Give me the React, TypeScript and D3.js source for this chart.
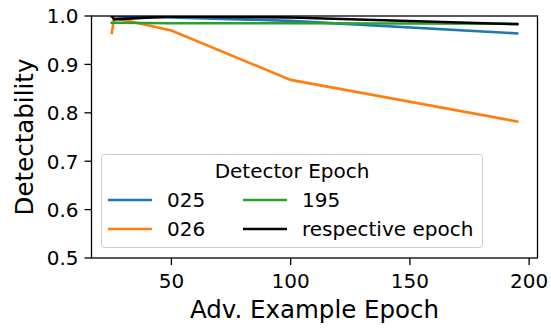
import React from "react";
import * as d3 from "d3";

const epochs = [25, 26, 50, 100, 195];
const det025 = [0.999, 0.999, 0.997, 0.990, 0.964];
const det026 = [0.965, 0.996, 0.970, 0.868, 0.782];
const det195 = [0.986, 0.986, 0.985, 0.985, 0.984];
const detResp = [1.0, 0.993, 0.999, 0.997, 0.983];
const xTicks = [50, 100, 150, 200];
const yTicks = [0.5, 0.6, 0.7, 0.8, 0.9, 1.0];

const series = [
  { name: "025", color: "#1f77b4", values: det025 },
  { name: "026", color: "#ff7f0e", values: det026 },
  { name: "195", color: "#2ca02c", values: det195 },
  { name: "respective epoch", color: "#000000", values: detResp },
];

export default function App() {
  const W = 551, H = 328;
  const L = 91.5, R = 537.5, T = 16, B = 258;
  const x = d3.scaleLinear().domain([16.5, 203.5]).range([L, R]);
  const y = d3.scaleLinear().domain([0.5, 1.0]).range([B, T]);
  const line = d3.line<number>().x((_, i) => x(epochs[i])).y((v) => y(v));
  const font = "DejaVu Sans, sans-serif";
  const fs = 20;
  const legendItems = [
    { s: series[0], col: 0, row: 0 },
    { s: series[1], col: 0, row: 1 },
    { s: series[2], col: 1, row: 0 },
    { s: series[3], col: 1, row: 1 },
  ];
  return (
    <svg width={W} height={H} style={{ position: "absolute", left: 0, top: 0 }} fontFamily={font}>
      <rect width={W} height={H} fill="#fff" />
      <defs>
        <clipPath id="plot">
          <rect x={L} y={T} width={R - L} height={B - T} />
        </clipPath>
      </defs>
      <g clipPath="url(#plot)">
        {series.map((s) => (
          <path key={s.name} d={line(s.values) || ""} fill="none" stroke={s.color} strokeWidth={2.6} strokeLinecap="square" />
        ))}
      </g>
      {/* legend */}
      <g>
        <rect x={101.5} y={154.5} width={381} height={93} rx={3} fill="#fff" fillOpacity={0.8} stroke="#cccccc" strokeWidth={1} />
        <text x={292} y={178} fontSize={fs} textAnchor="middle" fill="#000">Detector Epoch</text>
        {legendItems.map(({ s, col, row }) => {
          const hx = col === 0 ? 108 : 243;
          const ly = row === 0 ? 200 : 229;
          return (
            <g key={s.name}>
              <line x1={hx} x2={hx + 44} y1={ly} y2={ly} stroke={s.color} strokeWidth={2.6} />
              <text x={hx + 59} y={ly + 7} fontSize={fs} fill="#000">{s.name}</text>
            </g>
          );
        })}
      </g>
      {/* spines */}
      <rect x={L} y={T} width={R - L} height={B - T} fill="none" stroke="#000" strokeWidth={1.3} />
      {xTicks.map((t) => (
        <g key={t}>
          <line x1={x(t)} x2={x(t)} y1={B} y2={B + 7} stroke="#000" strokeWidth={1.3} />
          <text x={x(t)} y={B + 30} fontSize={fs} textAnchor="middle" fill="#000">{t}</text>
        </g>
      ))}
      {yTicks.map((t) => (
        <g key={t}>
          <line x1={L - 7} x2={L} y1={y(t)} y2={y(t)} stroke="#000" strokeWidth={1.3} />
          <text x={L - 13} y={y(t) + 7.3} fontSize={fs} textAnchor="end" fill="#000">{t.toFixed(1)}</text>
        </g>
      ))}
      <text x={(L + R) / 2} y={318} fontSize={24.5} textAnchor="middle" fill="#000">Adv. Example Epoch</text>
      <text transform={`translate(33,${(T + B) / 2}) rotate(-90)`} fontSize={24.5} textAnchor="middle" fill="#000">Detectability</text>
    </svg>
  );
}
